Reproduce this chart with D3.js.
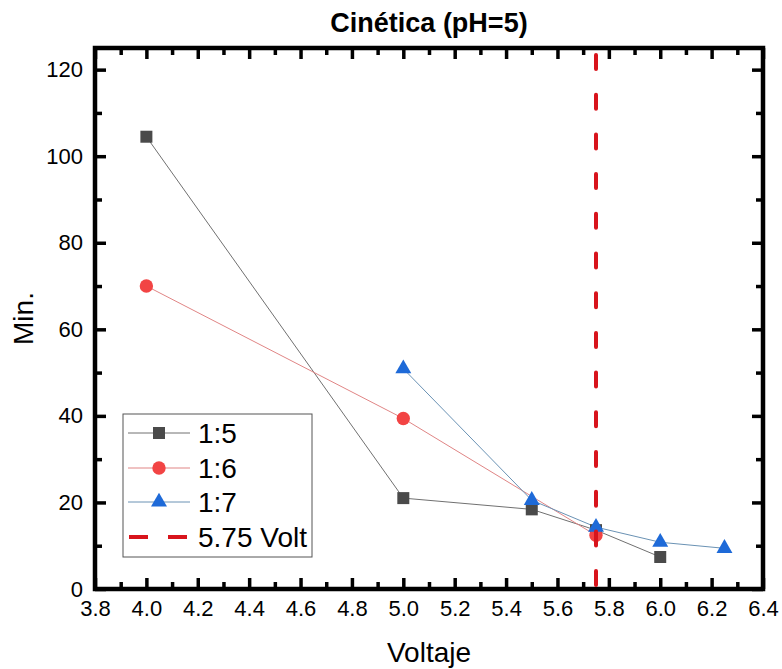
<!DOCTYPE html>
<html>
<head>
<meta charset="utf-8">
<script src="https://cdn.jsdelivr.net/npm/d3@7"></script>
<style>
  body { margin: 0; background: #fff; }
  text { font-family: "Liberation Sans", Arial, sans-serif; }
</style>
</head>
<body>
<div id="chart"></div>
<script>
// data
const seriesNames = ["1:5", "1:6", "1:7"];
const volt15 = [4.0, 5.0, 5.5, 5.75, 6.0];
const min15  = [104.5, 21.0, 18.4, 13.6, 7.4];
const volt16 = [4.0, 5.0, 5.75];
const min16  = [70.0, 39.4, 12.4];
const volt17 = [5.0, 5.5, 5.75, 6.0, 6.25];
const min17  = [50.9, 20.5, 14.3, 10.8, 9.4];
const refVolt = 5.75;
const refLabel = "5.75 Volt";
const xTicks = [3.8, 4.0, 4.2, 4.4, 4.6, 4.8, 5.0, 5.2, 5.4, 5.6, 5.8, 6.0, 6.2, 6.4];
const xMinor = [3.9, 4.1, 4.3, 4.5, 4.7, 4.9, 5.1, 5.3, 5.5, 5.7, 5.9, 6.1, 6.3];
const yTicks = [0, 20, 40, 60, 80, 100, 120];
const yMinor = [10, 30, 50, 70, 90, 110];

const W = 782, H = 669;
const margin = { top: 48, left: 95, right: 19, bottom: 80 };
const w = W - margin.left - margin.right;
const h = H - margin.top - margin.bottom;

const styles = [
  { line: "#707070", fill: "#4a4a4a", sym: d3.symbolSquare, size: 144 },
  { line: "#e08585", fill: "#f24444", sym: d3.symbolCircle, size: 140 },
  { line: "#6a92b4", fill: "#1e6ad8", sym: d3.symbolTriangle, size: 110 }
];
const refColor = "#d8141c";

const series = [
  volt15.map((v, i) => ({ x: v, y: min15[i] })),
  volt16.map((v, i) => ({ x: v, y: min16[i] })),
  volt17.map((v, i) => ({ x: v, y: min17[i] }))
];

const x = d3.scaleLinear().domain([3.8, 6.4]).range([0, w]);
const y = d3.scaleLinear().domain([0, 125]).range([h, 0]);

const svg = d3.select("#chart").append("svg")
  .attr("width", W).attr("height", H);

svg.append("text")
  .attr("x", margin.left + w / 2).attr("y", 32)
  .attr("text-anchor", "middle")
  .attr("font-size", 27).attr("font-weight", "bold")
  .text("Cinética (pH=5)");

const g = svg.append("g").attr("transform", `translate(${margin.left},${margin.top})`);

// axes, ticks inward
function styleAxis(sel, labels) {
  sel.select(".domain").remove();
  sel.selectAll("line").attr("stroke", "#000").attr("stroke-width", 3.5);
  sel.selectAll("text").attr("font-size", 22).attr("fill", "#000");
  if (!labels) sel.selectAll("text").remove();
}
const fmtX = d3.format(".1f");

g.append("g").attr("transform", `translate(0,${h})`)
  .call(d3.axisBottom(x).tickValues(xTicks).tickFormat(fmtX).tickSize(-11).tickPadding(11))
  .call(s => styleAxis(s, true));
g.append("g").attr("transform", `translate(0,${h})`)
  .call(d3.axisBottom(x).tickValues(xMinor).tickSize(-7))
  .call(s => styleAxis(s, false));
g.append("g")
  .call(d3.axisTop(x).tickValues(xTicks).tickSize(-11))
  .call(s => styleAxis(s, false));
g.append("g")
  .call(d3.axisTop(x).tickValues(xMinor).tickSize(-7))
  .call(s => styleAxis(s, false));

g.append("g")
  .call(d3.axisLeft(y).tickValues(yTicks).tickSize(-11).tickPadding(12))
  .call(s => styleAxis(s, true));
g.append("g")
  .call(d3.axisLeft(y).tickValues(yMinor).tickSize(-7))
  .call(s => styleAxis(s, false));
g.append("g").attr("transform", `translate(${w},0)`)
  .call(d3.axisRight(y).tickValues(yTicks).tickSize(-11))
  .call(s => styleAxis(s, false));
g.append("g").attr("transform", `translate(${w},0)`)
  .call(d3.axisRight(y).tickValues(yMinor).tickSize(-7))
  .call(s => styleAxis(s, false));

g.append("rect")
  .attr("width", w).attr("height", h)
  .attr("fill", "none").attr("stroke", "#000").attr("stroke-width", 4.5);

// axis titles
svg.append("text")
  .attr("x", margin.left + w / 2).attr("y", 662)
  .attr("text-anchor", "middle").attr("font-size", 28)
  .text("Voltaje");
svg.append("text")
  .attr("transform", `translate(33,${margin.top + h / 2}) rotate(-90)`)
  .attr("text-anchor", "middle").attr("font-size", 28)
  .text("Min.");

// series
const line = d3.line().x(d => x(d.x)).y(d => y(d.y));
series.forEach((data, i) => {
  const st = styles[i];
  g.append("path").datum(data)
    .attr("d", line)
    .attr("fill", "none").attr("stroke", st.line).attr("stroke-width", 1);
});
series.forEach((data, i) => {
  const st = styles[i];
  g.append("g").selectAll("path").data(data).join("path")
    .attr("transform", d => `translate(${x(d.x)},${y(d.y)})`)
    .attr("d", d3.symbol(st.sym, st.size))
    .attr("fill", st.fill);
});

// reference line
g.append("line")
  .attr("x1", x(refVolt)).attr("x2", x(refVolt))
  .attr("y1", y(125)).attr("y2", y(0))
  .attr("stroke", refColor).attr("stroke-width", 4)
  .attr("stroke-linecap", "round")
  .attr("stroke-dasharray", "14,25.7")
  .attr("stroke-dashoffset", -7);

// legend
const lg = svg.append("g").attr("transform", "translate(123,414)");
lg.append("rect")
  .attr("width", 189).attr("height", 143)
  .attr("fill", "#fff").attr("stroke", "#555").attr("stroke-width", 1);
const rowY = [19, 54, 88, 123];
seriesNames.forEach((name, i) => {
  const st = styles[i];
  const r = lg.append("g").attr("transform", `translate(0,${rowY[i]})`);
  r.append("line").attr("x1", 5).attr("x2", 67)
    .attr("stroke", st.line).attr("stroke-width", 1);
  r.append("path").attr("transform", "translate(36,0)")
    .attr("d", d3.symbol(st.sym, st.size)).attr("fill", st.fill);
  r.append("text").attr("x", 75).attr("y", 10)
    .attr("font-size", 28).text(name);
});
const rr = lg.append("g").attr("transform", `translate(0,${rowY[3]})`);
rr.append("line").attr("x1", 6).attr("x2", 64)
  .attr("stroke", refColor).attr("stroke-width", 4)
  .attr("stroke-dasharray", "19,20");
rr.append("text").attr("x", 75).attr("y", 10)
  .attr("font-size", 28).text(refLabel);
</script>
</body>
</html>
